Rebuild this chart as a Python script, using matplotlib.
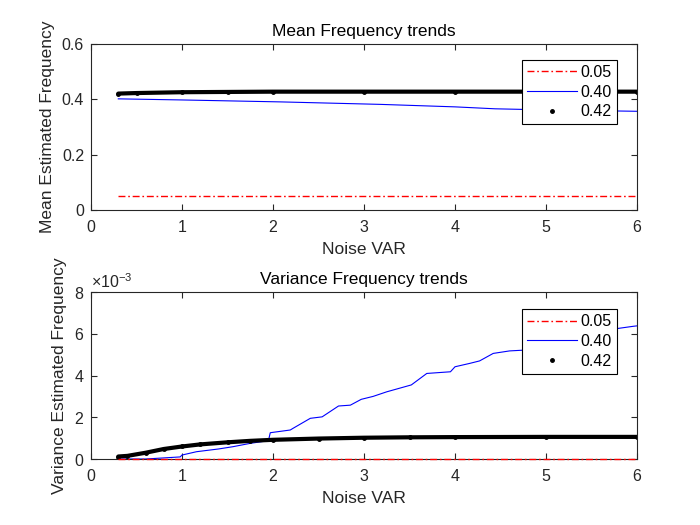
import matplotlib
matplotlib.use("Agg")

import matplotlib.pyplot as plt
from matplotlib.ticker import ScalarFormatter

plt.rcParams["font.family"] = ["Liberation Sans", "DejaVu Sans"]
plt.rcParams["mathtext.fontset"] = "custom"
plt.rcParams["mathtext.rm"] = "Liberation Sans"
plt.rcParams["lines.scale_dashes"] = False

TXT = "#262626"

# ---- data ----
series_labels = ["0.05", "0.40", "0.42"]

# mean estimated frequency
mean_red_x = [0.3, 6.0]
mean_red_y = [0.05, 0.05]

mean_blue_x = [0.3, 1.0, 2.08, 3.18, 4.0, 4.44, 5.0, 6.0]
mean_blue_y = [0.402, 0.398, 0.391, 0.382, 0.373, 0.366, 0.362, 0.357]

mean_black_x = [0.3, 0.5, 1.0, 1.5, 2.0, 3.0, 4.0, 5.0, 6.0]
mean_black_y = [0.421, 0.423, 0.426, 0.427, 0.428, 0.428, 0.428, 0.428, 0.428]

# variance of estimated frequency (x1e-3)
var_red_x = [0.3, 6.0]
var_red_y = [0.0, 0.0]

var_blue_x = [0.3, 0.6, 0.98, 1.0, 1.16, 1.4, 1.56, 1.75, 1.95, 1.97, 2.19, 2.22,
              2.41, 2.54, 2.72, 2.85, 2.97, 3.1, 3.25, 3.52, 3.69, 3.95, 4.0,
              4.16, 4.27, 4.42, 4.6, 4.77, 5.0, 5.3, 5.6, 5.78, 5.96, 6.0]
var_blue_y = [0.0, 0.0, 0.1, 0.19, 0.35, 0.48, 0.59, 0.75, 0.88, 1.26, 1.39, 1.47,
              1.95, 2.02, 2.54, 2.58, 2.86, 3.0, 3.22, 3.55, 4.1, 4.18, 4.42,
              4.58, 4.7, 5.06, 5.18, 5.22, 5.35, 5.7, 6.05, 6.25, 6.36, 6.38]

var_black_x = [0.3, 0.4, 0.6, 0.8, 1.0, 1.2, 1.5, 1.75, 2.0, 2.5, 3.0, 3.5, 4.0, 5.0, 6.0]
var_black_y = [0.12, 0.15, 0.3, 0.48, 0.6, 0.7, 0.8, 0.87, 0.92, 0.98, 1.02, 1.04,
               1.05, 1.06, 1.06]

x_ticks = [0, 1, 2, 3, 4, 5, 6]
mean_yticks = [0, 0.2, 0.4, 0.6]
mean_yticklabels = ["0", "0.2", "0.4", "0.6"]
var_yticks = [0, 2, 4, 6, 8]

TICK_FS = 11.5
LABEL_FS = 12.5


def style_axes(ax):
    for s in ax.spines.values():
        s.set_linewidth(0.8)
        s.set_color(TXT)
    ax.tick_params(direction="in", length=4, width=0.8, top=True, right=True,
                   labelsize=TICK_FS, colors=TXT, pad=5)
    ax.tick_params(axis="x", pad=7)
    ax.set_xlim(0, 6)
    ax.set_xticks(x_ticks)
    ax.set_xticklabels([str(t) for t in x_ticks])


def draw_panel(ax, rx, ry, bx, by, kx, ky, scale=1.0, red_clip=True):
    ax.plot(rx, [v * scale for v in ry], color="red", lw=1.0,
            dashes=(5, 2, 1.2, 2), label=series_labels[0], clip_on=red_clip, zorder=3)
    ax.plot(bx, [v * scale for v in by], color="blue", lw=0.8, label=series_labels[1])
    ax.plot(kx, [v * scale for v in ky], color="black", lw=3.0,
            solid_capstyle="round", label="_nolegend_")
    ax.plot(kx, [v * scale for v in ky], "k.", ms=5, label=series_labels[2])


def add_legend(ax, top):
    leg = ax.legend(loc="upper right", bbox_to_anchor=(0.963, top), borderaxespad=0,
                    fontsize=TICK_FS, frameon=True, fancybox=False, framealpha=1,
                    edgecolor="black", handlelength=3.1, handletextpad=0.25,
                    labelspacing=0.3, borderpad=0.3, numpoints=1)
    leg.get_frame().set_linewidth(0.8)
    return leg


fig = plt.figure(figsize=(7, 5.25), dpi=100)
ax1 = fig.add_axes([0.13, 0.6, 0.78, 0.316])
ax2 = fig.add_axes([0.13, 0.1257, 0.78, 0.318])

# top panel
draw_panel(ax1, mean_red_x, mean_red_y, mean_blue_x, mean_blue_y, mean_black_x, mean_black_y)
style_axes(ax1)
ax1.set_ylim(0, 0.6)
ax1.set_yticks(mean_yticks)
ax1.set_yticklabels(mean_yticklabels)
ax1.set_title("Mean Frequency trends", fontsize=LABEL_FS, color="black", pad=6)
ax1.set_xlabel("Noise VAR", fontsize=LABEL_FS, color=TXT, labelpad=5)
ax1.set_ylabel("Mean Estimated Frequency", fontsize=LABEL_FS, color=TXT, labelpad=5)
add_legend(ax1, 0.9036)

# bottom panel
draw_panel(ax2, var_red_x, var_red_y, var_blue_x, var_blue_y, var_black_x, var_black_y,
           scale=1e-3, red_clip=False)
style_axes(ax2)
ax2.set_ylim(0, 8e-3)
ax2.set_yticks([v * 1e-3 for v in var_yticks])
fmt = ScalarFormatter(useMathText=True)
fmt.set_powerlimits((-2, 2))
ax2.yaxis.set_major_formatter(fmt)
ax2.yaxis.get_offset_text().set_fontsize(TICK_FS)
ax2.yaxis.get_offset_text().set_color(TXT)
ax2.set_title("Variance Frequency trends", fontsize=LABEL_FS, color="black", pad=6)
ax2.set_xlabel("Noise VAR", fontsize=LABEL_FS, color=TXT, labelpad=5)
ax2.set_ylabel("Variance Estimated Frequency", fontsize=LABEL_FS, color=TXT, labelpad=5)
add_legend(ax2, 0.896)

fig.savefig("out.png", dpi=100, facecolor="white")
